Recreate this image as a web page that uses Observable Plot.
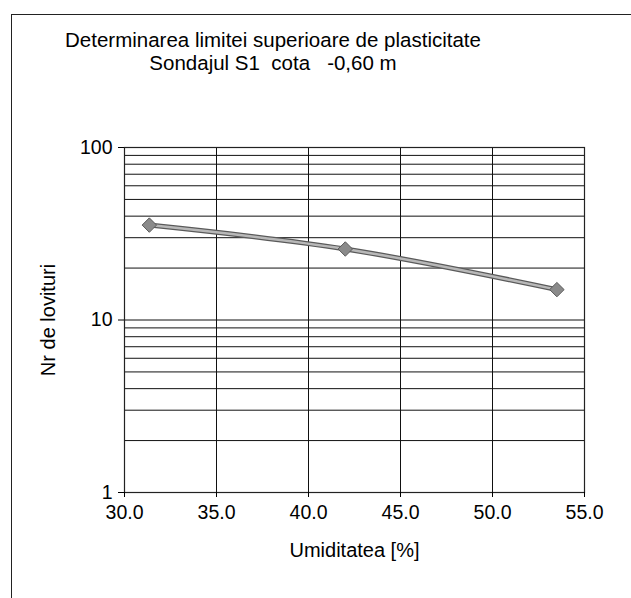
<!DOCTYPE html>
<html>
<head>
<meta charset="utf-8">
<script src="https://cdn.jsdelivr.net/npm/d3@7"></script>
<script src="https://cdn.jsdelivr.net/npm/@observablehq/plot@0.6"></script>
<style>
  html, body { margin: 0; padding: 0; background: #fff; }
  #wrap { position: relative; width: 631px; height: 598px; overflow: hidden; font-family: "Liberation Sans", Arial, sans-serif; color: #000; }
  #border { position: absolute; left: 11px; top: 14px; width: 640px; height: 600px; border-left: 1.5px solid #222; border-top: 1.5px solid #222; }
  .title { position: absolute; left: 0; width: 546px; text-align: center; font-size: 20.5px; white-space: pre; }
  #chart { position: absolute; left: 0; top: 0; }
</style>
</head>
<body>
<div id="wrap">
  <div id="border"></div>
  <div class="title" id="t1" style="top:28px"></div>
  <div class="title" id="t2" style="top:51px"></div>
  <div id="chart"></div>
</div>
<script>
const titleLines = ["Determinarea limitei superioare de plasticitate", "Sondajul S1  cota   -0,60 m"];
const xLabel = "Umiditatea [%]";
const yLabel = "Nr de lovituri";
const umiditate = [31.35, 42.0, 53.5];
const lovituri = [35.5, 25.8, 15.0];
const xTicks = [30, 35, 40, 45, 50, 55];
const yTickLabels = [1, 10, 100];
const yGrid = [1, 2, 3, 4, 5, 6, 7, 8, 9, 10, 20, 30, 40, 50, 60, 70, 80, 90, 100];

document.getElementById("t1").textContent = titleLines[0];
document.getElementById("t2").textContent = titleLines[1];

const data = umiditate.map((x, i) => ({x, y: lovituri[i]}));

const chart = Plot.plot({
  width: 631,
  height: 598,
  marginLeft: 124,
  marginRight: 47,
  marginTop: 147,
  marginBottom: 106,
  style: {fontFamily: "'Liberation Sans', Arial, sans-serif", background: "transparent", color: "#000"},
  x: {domain: [30, 55]},
  y: {type: "log", domain: [1, 100]},
  marks: [
    Plot.gridX(xTicks, {stroke: "#111", strokeOpacity: 1, strokeWidth: 1}),
    Plot.gridY(yGrid, {stroke: "#111", strokeOpacity: 1, strokeWidth: 1}),
    Plot.frame({stroke: "#222", strokeWidth: 1.2}),
    Plot.axisX(xTicks, {tickSize: 5, tickPadding: 8, tickFormat: d3.format(".1f"), fontSize: 19.5, label: null}),
    Plot.axisY(yTickLabels, {tickSize: 6, tickPadding: 6, tickFormat: d => String(d), fontSize: 19.5, label: null}),
    Plot.text([xLabel], {frameAnchor: "bottom", dy: 64, fontSize: 20, text: d => d}),
    Plot.text([yLabel], {frameAnchor: "left", dx: -76, rotate: -90, textAnchor: "middle", fontSize: 20, text: d => d}),
    Plot.line(data, {x: "x", y: "y", curve: "catmull-rom", stroke: "#5a5a5a", strokeWidth: 5}),
    Plot.line(data, {x: "x", y: "y", curve: "catmull-rom", stroke: "#b8b8b8", strokeWidth: 2.5}),
    Plot.dot(data, {x: "x", y: "y", symbol: "diamond2", r: 6.5, fill: "#8a8a8a", stroke: "#5a5a5a", strokeWidth: 1})
  ]
});
document.getElementById("chart").appendChild(chart);
</script>
</body>
</html>
